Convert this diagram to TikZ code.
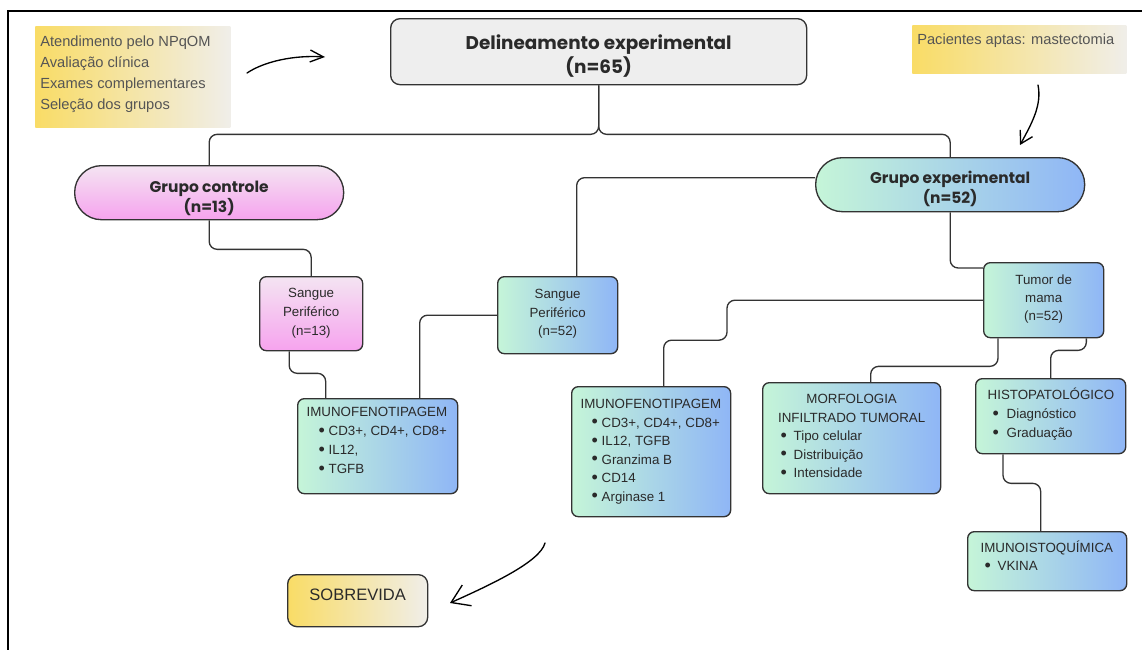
\documentclass[tikz,border=0pt]{standalone}
\usepackage{fontspec}
\setmainfont{Liberation Sans}
\newfontfamily\titlefont{Poppins}
\usetikzlibrary{calc,arrows.meta}
\definecolor{mint}{HTML}{C5F5D8}
\definecolor{bluer}{HTML}{8FB6F6}
\definecolor{pinktop}{HTML}{F4E4F2}
\definecolor{pinkbot}{HTML}{F6A3EE}
\definecolor{yelA}{HTML}{F9DC66}
\definecolor{yelB}{HTML}{F0EEE9}
\definecolor{greybox}{HTML}{EEEEEE}
\definecolor{linec}{HTML}{333333}
\definecolor{textc}{HTML}{2A2A2A}
\definecolor{notec}{HTML}{555555}
% width, height, size, skip, first baseline, content
\newcommand\bxm[6]{\begin{minipage}[t][#2][t]{#1}\fontsize{#3}{#4}\selectfont\leavevmode\rule{0pt}{#5}#6\end{minipage}}
\newcommand\bl[2]{\hspace*{#1}\makebox[#2][l]{\raisebox{-0.3pt}{\scalebox{1.35}{\textbullet}}}}
\begin{document}
\begin{tikzpicture}[x=0.75pt,y=-0.75pt,
  box/.style={draw=linec, line width=1pt, rounded corners=5pt, inner sep=0pt, anchor=north west, text=textc},
  stad/.style={box, rounded corners=20pt},
  grad/.style={left color=mint, right color=bluer},
  pinkg/.style={top color=pinktop, bottom color=pinkbot},
  yel/.style={left color=yelA, right color=yelB},
  note/.style={inner sep=0pt, anchor=north west, left color=yelA, right color=yelB, text=notec},
  conn/.style={draw=linec, line width=1pt, rounded corners=6pt},
  hand/.style={draw=black, line width=1pt, line cap=round}]
\useasboundingbox (0,0) rectangle (1142,650);
\fill[white] (0,0) rectangle (1142,650);
% frame
\draw[line width=1.5pt] (1142,11) -- (8,11) -- (8,650);

% notes
\node[note] (nA) at (35,26) {\bxm{146.25pt}{75.75pt}{11pt}{15.75pt}{15pt}{\leftskip=3.75pt Atendimento pelo NPqOM\\Avalia\c{c}\~ao cl\'inica\\Exames complementares\\Sele\c{c}\~ao dos grupos}};
\node[note] (nB) at (912,25) {\bxm{160.5pt}{36pt}{11pt}{15pt}{14.25pt}{\leftskip=3.75pt Pacientes aptas: mastectomia}};

% main boxes
\node[box, fill=greybox, rounded corners=7pt] (top) at (390,18) {\bxm{312pt}{49.5pt}{13.8pt}{18pt}{22.9pt}{\centering\titlefont\bfseries Delineamento experimental\\(n=65)}};
\node[stad, pinkg] (gc) at (74,165) {\bxm{201.75pt}{40.5pt}{11.6pt}{15pt}{19.9pt}{\centering\titlefont\bfseries Grupo controle\\(n=13)}};
\node[stad, grad] (ge) at (815,157) {\bxm{201.75pt}{40.5pt}{11.6pt}{15pt}{19.1pt}{\centering\titlefont\bfseries Grupo experimental\\(n=52)}};

\node[box, pinkg] (s13) at (259,276) {\bxm{77.25pt}{55.5pt}{10pt}{14.25pt}{15.75pt}{\centering Sangue\\Perif\'erico\\(n=13)}};
\node[box, grad] (s52) at (497,276) {\bxm{90pt}{57.75pt}{10pt}{13.9pt}{16.5pt}{\centering Sangue\\Perif\'erico\\(n=52)}};
\node[box, grad] (tm) at (983,262) {\bxm{90pt}{56.25pt}{10pt}{13.5pt}{16.5pt}{\centering Tumor de\\mama\\(n=52)}};

\node[box, grad] (iml) at (297,398) {\bxm{120pt}{71.25pt}{10pt}{14.25pt}{13.5pt}{\leftskip=6.75pt IMUNOFENOTIPAGEM\\\bl{9pt}{7.5pt}CD3+, CD4+, CD8+\\\bl{9pt}{7.5pt}IL12,\\\bl{9pt}{7.5pt}TGFB}};
\node[box, grad] (imr) at (571,386) {\bxm{119.25pt}{97.5pt}{10pt}{13.9pt}{16.5pt}{\leftskip=6.75pt IMUNOFENOTIPAGEM\\\bl{8.25pt}{7.5pt}CD3+, CD4+, CD8+\\\bl{8.25pt}{7.5pt}IL12, TGFB\\\bl{8.25pt}{7.5pt}Granzima B\\\bl{8.25pt}{7.5pt}CD14\\\bl{8.25pt}{7.5pt}Arginase 1}};
\node[box, grad] (mf) at (762,382) {\bxm{133.5pt}{83.25pt}{10pt}{13.9pt}{15.75pt}{{\centering MORFOLOGIA\\INFILTRADO TUMORAL\par}\bl{13.5pt}{9.75pt}Tipo celular\\\bl{13.5pt}{9.75pt}Distribui\c{c}\~ao\\\bl{13.5pt}{9.75pt}Intensidade}};
\node[box, grad] (hp) at (975,378) {\bxm{112.5pt}{56.25pt}{10pt}{14.25pt}{15.75pt}{\leftskip=9pt HISTOPATOL\'OGICO\\\bl{3.75pt}{10.5pt}Diagn\'ostico\\\bl{3.75pt}{10.5pt}Gradua\c{c}\~ao}};
\node[box, grad] (ii) at (967,531) {\bxm{119.25pt}{44.25pt}{10pt}{13.5pt}{15.75pt}{\leftskip=9.75pt IMUNOISTOQU\'IMICA\\\bl{3pt}{9.75pt}VKINA}};
\node[box, yel, rounded corners=7pt] (sv) at (287,574) {\bxm{105pt}{39pt}{12.4pt}{15pt}{19.5pt}{\centering SOBREVIDA}};

% connectors
\draw[conn] (top.south) -- ++(0,49) -| (gc.north);
\draw[conn] (top.south) -- ++(0,49) -| (ge.north);
\draw[conn] (gc.south) -- ++(0,29) -| (s13.north);
\draw[conn] ($(s13.south)+(-22,0)$) -- ++(0,22) -| ($(iml.north)+(-52,0)$);
\draw[conn] ($(iml.north)+(42,0)$) |- (s52.west);
\draw[conn] ($(s52.north)+(19,0)$) |- ($(ge.west)+(0,-7)$);
\draw[conn] (ge.south) |- ($(tm.north west)+(0,6)$);
\draw[conn] (tm.west) -- ++(-256,0) -- ++(0,40) -| ($(imr.north)+(12.5,0)$);
\draw[conn] ($(tm.south west)+(15,0)$) -- ++(0,28) -| ($(mf.north)+(19,0)$);
\draw[conn] ($(tm.south east)+(-18,0)$) -- ++(0,12) -| (hp.north);
\draw[conn] ($(hp.south west)+(28,0)$) -- ++(0,29) -| ($(ii.north)+(-6.5,0)$);

% hand-drawn arrows
\coordinate (a1s) at (247,73);
\coordinate (a1e) at (325,57);
\coordinate (a2s) at (545,543);
\coordinate (a2e) at (450,603);
\coordinate (a3s) at (1038,85);
\coordinate (a3e) at (1020,145);
\draw[hand, -{Straight Barb[length=10pt,width=9pt]}] (a1s) .. controls (265,61) and (295,55) .. (a1e);
\draw[hand, -{Straight Barb[length=13pt,width=17pt]}] (a2s) .. controls (540,562) and (490,585) .. (a2e);
\draw[hand, -{Straight Barb[length=9pt,width=10.5pt]}] (a3s) .. controls (1042,105) and (1032,123) .. (a3e);
\end{tikzpicture}
\end{document}
